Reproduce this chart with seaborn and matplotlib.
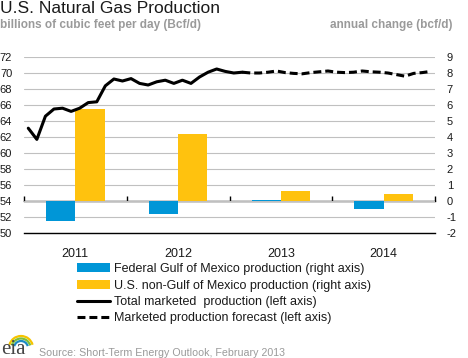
import numpy as np
import pandas as pd
import matplotlib
matplotlib.use("Agg")
import matplotlib.pyplot as plt
from matplotlib.patches import Patch, Arc
from matplotlib.lines import Line2D
import seaborn as sns

# ---------------- data ----------------
years = ["2011", "2012", "2013", "2014"]
fed_gulf_change = [-1.25, -0.80, 0.08, -0.48]        # right axis, bcf/d
non_gulf_change = [5.75, 4.20, 0.60, 0.44]           # right axis, bcf/d
actual_production = [63.1, 61.7, 64.6, 65.5, 65.6, 65.2, 65.6, 66.3, 66.4, 68.4, 69.25, 69.0,
                     69.3, 68.7, 68.5, 68.9, 69.1, 68.7, 69.1, 68.7, 69.5, 70.1, 70.5, 70.2,
                     70.0, 70.1]                      # Jan 2011 - Feb 2013
forecast_production = [70.1, 70.0, 70.0, 70.1, 70.25, 70.05, 69.95, 69.9, 70.05, 70.15, 70.25,
                       70.1, 70.05, 70.1, 70.25, 70.15, 70.1, 70.0, 69.8, 69.6, 69.95, 70.05, 70.2]  # Feb 2013 - Dec 2014
series_names = ["Federal Gulf of Mexico production (right axis)",
                "U.S. non-Gulf of Mexico production (right axis)",
                "Total marketed  production (left axis)",
                "Marketed production forecast (left axis)"]

BLUE = "#0096D7"
YELLOW = "#FFC20E"
GRID = "#C0C0C0"
GRAYTXT = "#9A9A9A"

# ---------------- frames ----------------
n_months = 12 * len(years)
year_centers = [12 * i + 5.5 for i in range(len(years))]
bars = pd.DataFrame({
    "x": year_centers * 2,
    "val": fed_gulf_change + non_gulf_change,
    "series": [series_names[0]] * 4 + [series_names[1]] * 4,
})
act = pd.DataFrame({"month": np.arange(len(actual_production)), "bcf": actual_production})
start_fc = len(actual_production) - 1
fc = pd.DataFrame({"month": np.arange(start_fc, start_fc + len(forecast_production)),
                   "bcf": forecast_production})

# ---------------- figure ----------------
sns.set_style("white")
plt.rcParams["font.family"] = ["Liberation Sans", "DejaVu Sans"]
plt.rcParams["axes.unicode_minus"] = False

W, H = 468, 358
fig = plt.figure(figsize=(W / 100, H / 100), dpi=100)
L, R, T, B = 24, 435, 57, 233
ax = fig.add_axes([L / W, 1 - B / H, (R - L) / W, (B - T) / H])

# bars on right-axis units
sns.barplot(data=bars, x="x", y="val", hue="series", native_scale=True, width=0.567,
            palette=[BLUE, YELLOW], saturation=1, errorbar=None, linewidth=0,
            legend=False, ax=ax, zorder=2)
ax.set_ylim(-2, 9)
ax.set_xlim(-0.5, n_months - 0.5)
ax.set_yticks(range(-2, 10))
ax.grid(axis="y", color=GRID, linewidth=0.8)
ax.set_axisbelow(True)
ax.set_xlabel("")
ax.set_ylabel("")
for s in ["left", "right", "top"]:
    ax.spines[s].set_visible(False)
ax.spines["bottom"].set_color("black")
ax.spines["bottom"].set_linewidth(1.0)

# x ticks: year boundaries (major) and month boundaries (minor)
bounds = [12 * i - 0.5 for i in range(len(years) + 1)]
ax.set_xticks(bounds)
ax.set_xticks(np.arange(-0.5, n_months, 1.0), minor=True)
ax.tick_params(axis="x", which="major", direction="inout", length=8, width=1,
               labelbottom=False, color="black")
ax.tick_params(axis="x", which="minor", direction="out", length=3, width=0.8,
               color="black")

# year labels
sec_year = ax.secondary_xaxis("bottom")
sec_year.set_xticks(year_centers, years)
sec_year.tick_params(length=0, pad=11, labelsize=9, labelcolor="#1a1a1a")
for s in sec_year.spines.values():
    s.set_visible(False)

# zero line of right axis with ticks hanging down
sec_zero = ax.secondary_xaxis(2 / 11)
sec_zero.set_xticks(bounds, [""] * len(bounds))
sec_zero.tick_params(direction="in", length=3.5, width=1, color="black")
for k, s in sec_zero.spines.items():
    s.set_visible(k == "top")
sec_zero.spines["top"].set_linewidth(1.0)
sec_zero.spines["top"].set_color("black")

# lines on left axis
ax2 = ax.twinx()
sns.lineplot(data=act, x="month", y="bcf", ax=ax2, color="black", linewidth=2.2)
sns.lineplot(data=fc, x="month", y="bcf", ax=ax2, color="black", linewidth=2.2,
             linestyle=(0, (2.6, 1.3)))
ax2.set_ylim(50, 72)
ax2.set_yticks(range(50, 73, 2))
ax2.set_xlabel("")
ax2.set_ylabel("")
for s in ax2.spines.values():
    s.set_visible(False)
ax2.set_xlim(-0.5, n_months - 0.5)

# swap sides: left labels for the line axis, right labels for the bar axis
ax.yaxis.set_ticks_position("right")
ax.tick_params(axis="y", which="both", left=False, labelleft=False, right=False,
               labelright=True, length=0, pad=8.5, labelsize=8, labelcolor="#1a1a1a")
ax2.yaxis.set_ticks_position("left")
ax2.tick_params(axis="y", which="both", right=False, labelright=False, left=False,
                labelleft=True, length=0, pad=8.5, labelsize=8, labelcolor="#1a1a1a")

# ---------------- texts ----------------
fig.text(0 / W, 1 - 13 / H, "U.S. Natural Gas Production", fontsize=12.5,
         color="#1a1a1a", ha="left", va="baseline")
fig.text(0 / W, 1 - 28 / H, "billions of cubic feet per day (Bcf/d)", fontsize=8.5,
         fontweight="bold", color=GRAYTXT, ha="left", va="baseline")
fig.text(453 / W, 1 - 28 / H, "annual change (bcf/d)", fontsize=8.5,
         fontweight="bold", color=GRAYTXT, ha="right", va="baseline")
fig.text(39 / W, 1 - 356 / H, "Source: Short-Term Energy Outlook, February 2013",
         fontsize=7.7, color=GRAYTXT, ha="left", va="baseline")

# eia logo
fig.text(1 / W, 1 - 354 / H, "eia", fontsize=15, family="Liberation Serif",
         color="#444444", ha="left", va="baseline")
for r, c in [(24, "#F5C400"), (19, "#7DBE3C"), (14, "#1E8BC3")]:
    fig.add_artist(Arc((21 / W, 1 - 348 / H), r / W, r / H, theta1=20, theta2=160,
                       color=c, linewidth=1.6, transform=fig.transFigure))

# ---------------- legend ----------------
handles = [Patch(facecolor=BLUE, edgecolor="none"),
           Patch(facecolor=YELLOW, edgecolor="none"),
           Line2D([], [], color="black", linewidth=2.2),
           Line2D([], [], color="black", linewidth=2.2, linestyle=(0, (2.6, 1.3)))]
fig.legend(handles, series_names, loc="upper left", bbox_to_anchor=(77 / W, 1 - 263 / H),
           bbox_transform=fig.transFigure, frameon=False, fontsize=9,
           handlelength=2.64, handleheight=0.7, handletextpad=0.35, labelspacing=0.36,
           borderaxespad=0, borderpad=0, labelcolor="#1a1a1a")

fig.savefig("out.png", dpi=100)
